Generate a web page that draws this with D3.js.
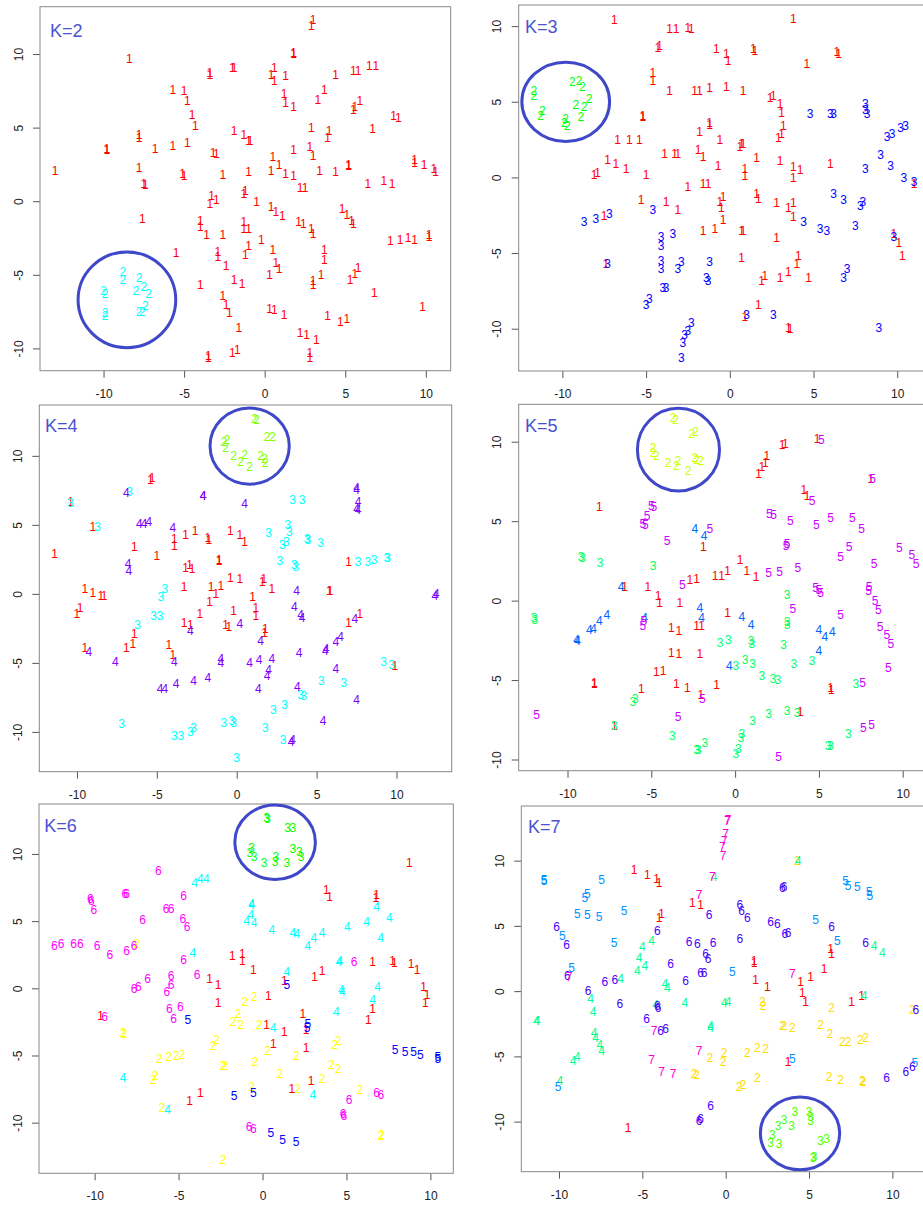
<!DOCTYPE html>
<html>
<head>
<meta charset="utf-8">
<script src="https://cdn.jsdelivr.net/npm/d3@7"></script>
<style>
  body { margin: 0; background: #fff; overflow: hidden; }
  svg { display: block; font-family: "Liberation Sans", Arial, Helvetica, sans-serif; }
</style>
</head>
<body>
<div id="chart"></div>
<script>
const kValues = [2, 3, 4, 5, 6, 7];
const tickValues = [-10, -5, 0, 5, 10];

// each panel: one list of [x, y] per cluster (cluster 1 first)
const k2Points = [
  [[3.0,12.3],[2.9,11.9],[-8.4,9.7],[1.8,10.0],[1.8,10.1],[-3.4,8.6],[-3.4,8.7],[-2.0,9.1],[-1.9,9.1],[0.6,9.1],[0.4,8.6],[0.6,8.2],[1.3,8.5],[4.4,8.6],[5.5,8.9],[5.8,8.9],[6.5,9.2],[6.9,9.2],[-5.7,7.6],[-5.0,7.5],[-4.8,6.8],[1.2,7.3],[1.3,6.7],[1.8,6.4],[3.7,7.6],[3.3,6.9],[5.5,6.2],[5.6,6.4],[5.9,6.8],[-4.5,5.9],[-4.3,5.1],[8.0,5.8],[8.3,5.7],[-7.8,4.5],[-7.8,4.3],[-1.9,4.8],[-1.3,4.5],[-1.0,4.1],[-0.9,4.1],[2.9,5.0],[4.0,4.8],[3.9,4.3],[6.7,4.9],[-9.8,3.5],[-9.8,3.6],[-6.8,3.6],[-5.7,3.8],[-4.8,4.0],[-3.2,3.3],[-3.0,3.2],[1.8,3.5],[2.8,3.7],[3.0,3.1],[0.5,3.0],[0.9,2.5],[-13.0,2.1],[-7.8,2.3],[-5.1,1.9],[-5.0,1.7],[-2.6,1.8],[-1.0,2.0],[0.4,2.1],[1.3,1.9],[1.8,1.7],[3.4,2.1],[4.4,2.0],[5.2,2.5],[5.2,2.4],[2.2,0.9],[2.5,0.9],[9.3,2.8],[9.3,2.6],[9.9,2.5],[10.5,2.2],[10.6,2.0],[6.4,1.2],[7.4,1.4],[7.9,1.2],[-7.5,1.2],[-7.4,1.1],[-3.3,0.4],[-3.4,-0.2],[-3.0,0.1],[-1.3,0.5],[-1.2,0.7],[-0.5,0.0],[0.4,-0.4],[0.7,-0.7],[1.1,-1.0],[4.8,-0.5],[5.1,-0.9],[5.4,-1.3],[5.5,-1.5],[-7.6,-1.2],[-4.0,-1.3],[-4.0,-1.7],[-3.6,-2.3],[-2.6,-2.3],[-1.3,-1.4],[-1.3,-1.9],[-1.0,-1.9],[2.1,-1.4],[2.4,-1.5],[2.9,-1.9],[3.0,-2.2],[7.8,-2.7],[8.4,-2.6],[8.9,-2.5],[9.3,-2.6],[10.2,-2.3],[10.2,-2.4],[-0.2,-2.6],[-1.0,-3.0],[-1.2,-3.6],[0.5,-3.3],[-5.5,-3.5],[-2.9,-3.4],[-2.9,-3.8],[3.7,-3.3],[3.7,-4.0],[-2.4,-4.4],[0.7,-4.2],[0.9,-4.6],[0.3,-5.0],[3.5,-5.0],[-1.9,-5.3],[-1.4,-5.6],[3.0,-5.4],[3.0,-5.7],[5.3,-5.3],[5.6,-4.9],[5.8,-4.5],[-4.0,-5.7],[6.8,-6.2],[-2.6,-6.4],[-2.4,-7.0],[-2.2,-7.6],[0.3,-7.3],[0.6,-7.4],[1.2,-7.7],[9.8,-7.2],[3.9,-7.8],[4.7,-8.2],[5.1,-8.0],[-1.6,-8.6],[2.2,-8.9],[2.6,-9.1],[3.2,-9.4],[-3.5,-10.5],[-3.5,-10.6],[-2.0,-10.3],[-1.7,-10.1],[2.8,-10.3],[2.8,-10.6]],
  [[-8.8,-4.8],[-8.8,-5.3],[-7.8,-5.2],[-7.5,-5.8],[-8.0,-6.1],[-7.2,-6.3],[-10.0,-6.1],[-9.9,-6.3],[-9.9,-7.6],[-9.9,-7.8],[-7.4,-7.1],[-7.6,-7.5],[-7.8,-7.5]]
];

const k3Points = [
  [[-6.9,10.4],[3.8,10.5],[-3.6,9.8],[-3.2,9.8],[-2.5,9.9],[-2.3,9.8],[-4.3,8.6],[-4.2,8.7],[-0.8,8.5],[-0.2,8.2],[-0.1,7.7],[1.4,8.5],[1.5,8.4],[6.4,8.3],[6.5,8.2],[4.6,7.5],[-4.6,6.9],[-4.6,6.4],[-3.6,5.7],[-2.1,5.7],[-1.8,5.7],[-1.2,5.9],[-0.2,6.0],[0.8,5.7],[2.4,5.3],[2.6,5.4],[3.0,4.9],[3.1,4.3],[-5.2,4.0],[-5.2,4.1],[-1.2,3.6],[-1.2,3.5],[-1.8,3.0],[-0.6,2.5],[3.2,3.4],[3.1,2.9],[2.9,2.6],[-6.7,2.5],[-6.0,2.5],[-5.4,2.5],[0.6,2.0],[0.7,2.2],[0.8,2.2],[-3.9,1.6],[-3.3,1.6],[-3.1,1.6],[-1.9,1.8],[-1.6,1.4],[-7.3,1.2],[-6.8,0.9],[-6.2,0.6],[1.6,1.3],[3.0,1.1],[-0.7,0.8],[0.9,0.6],[0.9,0.1],[3.8,0.7],[4.2,0.5],[3.8,0.0],[6.0,0.9],[-8.1,0.2],[-7.9,0.3],[-5.0,0.2],[-2.5,-0.6],[-1.6,-0.4],[-1.3,-0.4],[-5.3,-1.5],[-3.8,-1.6],[-3.1,-2.1],[-0.4,-1.3],[-0.6,-1.6],[-0.5,-2.0],[1.6,-1.1],[1.7,-1.4],[2.8,-1.7],[3.5,-2.0],[3.8,-1.7],[3.8,-2.6],[-7.5,-2.5],[-1.6,-3.5],[-0.9,-3.4],[-0.4,-2.8],[0.7,-3.5],[0.8,-3.5],[2.8,-4.0],[0.7,-5.3],[4.1,-5.2],[4.0,-5.7],[-7.4,-5.7],[1.9,-6.8],[2.1,-6.5],[3.0,-6.6],[3.5,-6.2],[4.7,-6.6],[9.8,-3.7],[10.1,-4.3],[10.3,-5.2],[11.0,-0.4],[1.7,-8.4],[0.9,-9.2],[3.5,-9.9],[3.6,-10.0]],
  [[-11.7,5.7],[-11.7,5.4],[-11.3,4.1],[-11.2,4.4],[-9.4,6.3],[-9.0,6.4],[-8.8,6.0],[-9.2,4.8],[-8.7,4.7],[-8.4,5.2],[-8.9,4.0],[-9.9,3.6],[-9.8,3.9],[-9.7,3.4]],
  [[4.8,4.2],[6.0,4.2],[6.2,4.2],[8.1,4.9],[8.1,4.5],[8.2,4.2],[9.4,2.7],[9.7,2.9],[10.2,3.3],[10.5,3.4],[9.0,1.5],[9.6,0.8],[8.1,0.6],[10.4,0.0],[11.0,-0.3],[6.2,-1.1],[6.8,-1.5],[7.8,-1.9],[7.95,-1.6],[7.5,-3.2],[4.4,-2.9],[5.4,-3.4],[5.8,-3.5],[9.8,-3.9],[7.0,-6.0],[6.8,-6.6],[-8.7,-2.9],[-8.0,-2.7],[-7.2,-2.4],[-4.6,-2.1],[-4.1,-3.9],[-4.1,-4.5],[-3.4,-3.7],[-4.1,-5.5],[-4.1,-6.0],[-3.1,-6.0],[-2.9,-5.6],[-1.2,-5.6],[-1.4,-6.6],[-1.3,-6.8],[-4.0,-7.3],[-3.8,-7.3],[-5.0,-8.4],[-4.8,-8.0],[-2.3,-9.6],[-2.5,-10.1],[-2.7,-10.4],[-2.8,-10.9],[-2.9,-11.9],[1.0,-9.1],[2.6,-9.1],[-7.3,-5.7],[8.9,-9.9]]
];

const k4Points = [
  [[-5.4,8.3],[-5.3,8.4],[-10.4,6.7],[-9.0,4.9],[-11.4,2.9],[-6.4,3.4],[-5.0,2.8],[-3.9,4.0],[-3.9,3.5],[-3.2,4.3],[-2.6,4.6],[-1.8,4.1],[-1.75,3.9],[-0.4,4.6],[0.2,4.3],[0.5,3.8],[-1.1,2.5],[-1.1,2.4],[-3.2,1.9],[-2.95,2.1],[-2.8,1.8],[-9.5,0.4],[-9.0,0.1],[-8.5,-0.1],[-8.3,-0.1],[-9.8,-1.0],[-10.0,-1.4],[-3.3,0.5],[-1.6,0.5],[-1.3,0.0],[-1.0,0.6],[-1.7,-0.6],[-0.4,1.2],[0.2,1.1],[1.6,0.9],[1.7,1.1],[2.2,0.4],[1.0,-0.2],[5.8,0.2],[5.85,0.2],[-2.3,-1.4],[-0.2,-1.2],[1.2,-1.0],[1.2,-1.6],[-3.3,-2.1],[-2.9,-2.2],[-0.7,-2.2],[-0.5,-2.4],[1.8,-2.5],[1.75,-2.8],[-6.4,-2.9],[-6.5,-3.6],[-6.9,-3.9],[-9.5,-3.9],[-4.25,-3.7],[-4.0,-4.4],[7.0,-2.1],[7.7,-1.4],[9.9,-5.2],[7.0,2.3]],
  [[1.1,12.7],[1.25,12.6],[1.9,11.4],[2.25,11.4],[-0.8,11.0],[-0.6,11.2],[-0.7,10.6],[-0.2,10.0],[0.25,9.6],[0.5,10.1],[0.8,9.2],[1.5,10.0],[1.75,9.8],[1.8,9.5]],
  [[-10.4,6.6],[-8.7,4.9],[-6.7,7.4],[3.5,6.8],[4.1,6.8],[3.2,5.0],[3.3,4.5],[2.0,4.4],[2.85,3.55],[3.1,3.8],[4.4,4.0],[4.45,3.9],[5.25,3.7],[2.7,2.4],[3.6,2.1],[3.7,2.0],[7.6,2.35],[8.2,2.35],[8.6,2.5],[9.4,2.6],[9.45,2.6],[-4.5,0.4],[-4.75,-0.2],[-5.2,-1.6],[-4.8,-1.6],[-6.2,-2.25],[-7.2,-9.4],[-3.9,-10.3],[-3.5,-10.3],[-2.9,-10.0],[-2.7,-9.7],[-0.8,-9.3],[-0.3,-9.2],[-0.2,-9.3],[0.0,-11.9],[1.8,-9.7],[2.3,-8.4],[3.0,-8.05],[2.9,-10.6],[4.0,-7.3],[4.2,-7.4],[5.3,-6.3],[6.7,-6.4],[9.2,-4.9],[9.7,-5.1]],
  [[-6.9,7.3],[-2.1,7.1],[-2.1,7.15],[0.5,6.5],[7.5,7.7],[7.5,7.55],[7.6,6.7],[7.5,6.2],[7.6,6.1],[-6.1,5.1],[-5.8,5.1],[-5.5,5.2],[-4.0,4.8],[-6.8,2.2],[-6.75,1.7],[3.75,0.2],[12.4,-0.1],[12.5,0.0],[3.6,-0.9],[4.0,-1.5],[4.1,-1.7],[0.2,-2.15],[-2.9,-2.7],[1.5,-3.4],[7.4,-1.8],[6.2,-3.5],[6.5,-3.1],[5.55,-4.1],[5.6,-3.95],[3.9,-4.25],[-9.25,-4.2],[-7.6,-4.9],[-3.9,-4.9],[-1.0,-4.7],[-1.0,-5.0],[0.8,-4.95],[1.4,-4.8],[2.2,-4.7],[2.0,-5.5],[1.9,-5.95],[6.2,-5.4],[-4.8,-6.85],[-4.5,-6.85],[-3.8,-6.5],[-2.7,-6.3],[-1.8,-6.1],[1.35,-6.9],[3.8,-6.7],[7.5,-7.7],[5.4,-9.2],[3.4,-10.7],[3.5,-10.6]]
];

const k5Points = [
  [[-8.1,5.9],[1.4,8.0],[1.6,8.4],[1.8,8.7],[1.9,9.1],[2.8,9.8],[3.0,9.9],[4.9,10.2],[8.1,7.7],[4.1,7.0],[4.3,6.6],[-1.9,3.4],[-6.6,0.9],[-5.2,0.9],[-4.6,0.3],[-4.5,-0.1],[-3.3,-0.1],[-2.7,1.3],[-2.3,1.4],[-1.2,1.55],[-0.8,1.55],[-0.45,1.9],[0.3,2.6],[0.7,1.9],[1.25,1.5],[-0.45,-0.75],[-3.8,-1.7],[-3.35,-1.9],[-2.3,-1.6],[-2.0,-1.55],[-3.8,-3.3],[-3.35,-3.35],[-2.1,-3.35],[-4.7,-4.5],[-4.3,-4.4],[-8.4,-5.2],[-8.4,-5.15],[-5.6,-5.55],[-3.5,-5.2],[-2.85,-5.45],[-2.05,-5.9],[-1.1,-5.3],[5.7,-5.5],[5.75,-5.6],[3.9,-7.0],[-7.2,-7.85]],
  [[-3.7,11.5],[-3.55,11.4],[-2.6,10.5],[-2.35,10.6],[-4.9,9.6],[-4.9,9.3],[-4.7,9.1],[-4.0,8.7],[-3.5,8.5],[-3.4,8.8],[-2.8,8.2],[-2.4,9.0],[-2.3,8.9],[-2.05,8.8]],
  [[-9.2,2.75],[-9.1,2.7],[-8.05,2.4],[-4.9,2.2],[-12.0,-1.1],[-11.95,-1.2],[3.1,0.4],[3.1,-1.35],[3.1,-1.5],[-0.9,-2.65],[-0.4,-2.45],[0.95,-2.55],[1.0,-2.7],[2.9,-2.8],[0.05,-4.1],[0.6,-3.7],[1.05,-4.0],[1.6,-4.75],[2.25,-4.9],[2.55,-4.95],[3.5,-4.0],[4.6,-3.8],[7.2,-5.2],[-6.1,-6.35],[-5.95,-6.2],[-7.2,-7.85],[-3.75,-8.5],[-2.3,-9.4],[-2.2,-9.35],[-1.8,-8.95],[0.05,-9.65],[0.2,-9.3],[0.35,-8.65],[0.4,-8.4],[1.05,-7.55],[2.0,-7.1],[3.1,-6.9],[3.7,-7.05],[5.55,-9.15],[5.7,-9.1],[6.75,-8.4]],
  [[-2.4,4.55],[-1.85,4.1],[-6.8,0.9],[-7.65,-0.9],[-8.1,-1.25],[-8.45,-1.75],[-8.7,-1.8],[-9.45,-2.45],[-9.4,-2.5],[-5.4,-1.1],[-2.1,-0.45],[-2.0,-1.1],[0.4,-1.0],[0.95,-1.5],[-0.35,-4.1],[5.0,-1.85],[5.35,-2.3],[5.8,-1.95],[5.0,-3.15]],
  [[5.15,10.15],[8.2,7.7],[4.6,6.3],[-5.0,5.95],[-4.85,5.9],[-5.25,5.35],[-5.5,4.85],[-5.35,4.8],[-1.5,4.55],[-4.05,3.75],[2.05,5.45],[2.3,5.4],[3.3,5.05],[4.85,4.8],[5.7,5.2],[7.0,5.25],[7.55,4.55],[3.1,3.6],[3.05,3.45],[6.3,2.75],[6.8,3.4],[3.75,2.1],[8.3,2.35],[9.8,3.35],[10.55,2.9],[10.8,2.35],[2.0,1.75],[2.65,1.8],[-3.15,1.0],[4.8,0.8],[5.0,0.7],[5.1,0.5],[8.0,0.85],[7.97,0.6],[8.35,0.0],[8.55,-0.55],[3.45,-0.5],[6.3,-0.9],[-5.5,-1.55],[-5.45,-1.25],[8.65,-1.65],[9.05,-2.15],[9.3,-2.7],[9.15,-4.2],[7.6,-5.15],[-1.95,-6.15],[-3.4,-7.3],[-11.85,-7.2],[7.65,-8.0],[8.15,-7.8],[2.6,-9.85]]
];

const k6Points = [
  [[8.75,9.35],[3.8,7.35],[4.0,6.8],[6.8,6.95],[6.75,6.75],[-1.8,2.4],[-1.2,2.55],[-1.2,2.05],[-0.55,1.35],[-3.15,0.7],[-2.65,0.3],[-2.65,-1.1],[0.35,-0.55],[3.1,0.9],[3.55,1.3],[6.55,1.95],[7.75,2.05],[7.85,1.9],[8.85,1.8],[9.2,1.4],[9.6,0.1],[9.8,-0.5],[9.7,-1.05],[1.3,0.6],[-9.65,-2.05],[0.25,-2.7],[1.3,-3.2],[2.4,-1.9],[2.6,-3.1],[6.55,-1.55],[6.3,-2.35],[0.65,-4.1],[2.6,-4.45],[2.9,-6.9],[1.75,-7.45],[-3.7,-7.8],[-4.35,-8.4]],
  [[-7.5,3.35],[-1.05,-1.0],[-0.5,-0.65],[-1.45,-1.9],[-1.75,-2.5],[-1.3,-2.7],[-0.2,-2.7],[-8.3,-3.3],[-8.25,-3.4],[-2.75,-3.8],[-2.95,-4.3],[-6.15,-5.25],[-5.6,-5.1],[-5.15,-5.05],[-4.8,-4.95],[-2.35,-5.75],[-2.25,-5.75],[-0.45,-5.45],[0.3,-4.65],[2.0,-5.0],[1.05,-6.35],[-6.5,-6.8],[-6.4,-6.5],[-0.65,-7.3],[2.1,-7.45],[3.55,-6.7],[4.3,-4.2],[4.5,-3.9],[4.1,-5.7],[4.5,-6.0],[5.8,-7.55],[7.05,-10.95],[7.1,-10.9],[-2.35,-12.75],[-6.0,-8.9]],
  [[0.25,12.7],[0.3,12.6],[1.5,11.95],[1.8,11.95],[-0.65,10.45],[-0.75,10.1],[-0.5,9.8],[0.1,9.35],[0.75,9.4],[0.8,9.8],[1.45,9.35],[1.8,10.4],[2.2,10.15],[2.3,9.8]],
  [[-4.05,7.85],[-3.7,8.15],[-3.35,8.15],[-0.65,6.3],[-0.65,6.2],[-0.7,5.5],[-0.95,5.0],[-0.5,4.9],[0.55,4.35],[1.8,4.15],[2.05,4.05],[3.05,3.8],[2.7,3.2],[3.55,4.15],[5.05,4.6],[6.2,4.95],[6.8,6.05],[7.55,5.25],[7.05,3.8],[4.6,2.05],[4.55,1.95],[-4.15,2.65],[1.45,1.25],[4.7,-0.1],[4.75,-0.25],[6.85,0.1],[6.55,-0.85],[4.4,-1.75],[0.65,-2.9],[-8.3,-6.65],[-5.65,-9.05],[3.0,-7.9]],
  [[1.45,0.3],[-4.45,-2.35],[2.7,-2.6],[2.65,-2.9],[7.9,-4.6],[8.5,-4.7],[9.0,-4.7],[9.4,-4.95],[10.45,-5.1],[10.45,-5.25],[-1.7,-8.0],[-0.55,-7.8],[0.5,-10.75],[1.2,-11.25],[2.0,-11.4]],
  [[-6.2,8.75],[-8.2,7.05],[-8.1,7.05],[-10.25,6.7],[-10.2,6.5],[-10.05,5.85],[-4.7,6.9],[-5.75,5.9],[-5.45,5.95],[-7.15,5.1],[-4.75,5.2],[-4.5,4.6],[-12.4,3.2],[-12.0,3.3],[-11.25,3.35],[-10.85,3.3],[-9.85,3.15],[-9.1,2.5],[-8.1,2.8],[-7.65,3.2],[-4.7,2.15],[-3.9,1.05],[-6.85,0.75],[-5.45,0.95],[-5.45,0.25],[-5.7,-0.25],[-7.65,-0.05],[-7.4,0.1],[-5.55,-1.55],[-4.9,-1.4],[-5.3,-2.25],[-9.4,-2.1],[5.45,1.95],[5.15,-8.3],[4.8,-9.35],[4.85,-9.5],[6.8,-7.8],[7.05,-7.9],[-0.8,-10.3],[-0.55,-10.45]]
];

const k7Points = [
  [[-5.5,9.3],[-4.7,8.95],[-4.15,8.6],[-4.0,8.3],[-2.0,6.75],[-1.5,6.65],[-3.85,5.9],[-4.0,5.6],[1.7,2.3],[1.7,2.2],[1.8,0.9],[2.5,0.35],[4.5,0.75],[5.1,1.1],[5.9,1.7],[4.6,-0.1],[4.8,-0.8],[6.3,3.25],[6.35,2.9],[7.55,-0.8],[8.15,-0.35],[3.75,-5.4],[-5.85,-10.45]],
  [[4.3,10.0],[2.2,-0.8],[2.25,-1.1],[6.35,-1.25],[3.4,-2.65],[3.5,-2.65],[4.0,-2.8],[5.7,-2.6],[6.25,-3.25],[7.0,-3.85],[7.35,-3.85],[8.1,-3.75],[8.4,-3.6],[-0.95,-5.1],[-0.1,-4.7],[-0.15,-5.4],[1.3,-4.75],[1.9,-4.3],[2.4,-4.4],[-1.9,-6.35],[-1.75,-6.4],[0.8,-7.35],[1.05,-7.2],[1.9,-6.6],[6.2,-6.55],[6.9,-6.75],[8.2,-6.85],[8.25,-6.95],[11.2,-1.45]],
  [[4.15,-9.25],[3.5,-9.85],[3.95,-10.3],[3.15,-10.3],[5.0,-9.25],[5.1,-9.6],[5.1,-9.95],[2.8,-11.0],[2.7,-11.65],[3.2,-11.7],[5.7,-11.45],[6.05,-11.3],[5.25,-12.8],[5.3,-12.65]],
  [[-0.7,8.75],[4.35,10.0],[-5.0,3.4],[-4.45,3.85],[-5.2,2.55],[-4.85,1.95],[-5.3,1.55],[-6.3,0.95],[-3.65,0.6],[-3.5,0.25],[-2.45,-0.85],[-0.1,-0.9],[0.15,-0.8],[-4.2,-1.05],[-8.1,-0.6],[-7.95,-1.55],[-11.35,-2.3],[-11.3,-2.25],[-0.9,-2.65],[-0.9,-2.8],[-7.9,-3.2],[-7.8,-3.6],[-7.55,-4.1],[-7.45,-4.6],[-9.15,-5.3],[-8.9,-5.0],[-9.95,-6.9],[8.3,-0.35],[8.9,3.5],[9.4,2.95]],
  [[-10.9,8.55],[-10.9,8.45],[-7.45,8.55],[-8.3,7.5],[-8.45,7.15],[-8.9,5.9],[-8.3,5.85],[-7.6,5.7],[-6.1,6.15],[-9.8,4.25],[-6.7,3.75],[-9.25,1.8],[0.4,1.5],[5.4,5.45],[6.7,3.9],[7.2,8.5],[7.35,8.1],[7.9,8.0],[8.6,7.65],[8.65,7.35],[4.0,-5.15],[-10.05,-7.3],[11.35,-5.5]],
  [[3.4,7.9],[3.5,8.0],[0.85,6.65],[0.95,6.15],[1.3,5.65],[-1.0,5.85],[2.7,5.3],[3.1,5.15],[3.55,4.4],[3.75,4.45],[6.35,4.95],[8.4,3.75],[-10.15,4.95],[-9.55,3.55],[-9.5,1.2],[-4.1,4.65],[-2.2,3.8],[-1.7,3.6],[-0.75,3.75],[-1.2,2.9],[-1.05,2.45],[0.85,4.0],[-3.3,2.1],[-2.4,0.8],[-1.5,1.4],[-1.3,1.4],[-7.25,0.75],[-6.65,0.85],[-8.25,0.0],[-6.35,-0.95],[-4.1,-1.15],[-4.05,-1.25],[-4.75,-2.1],[-3.9,-3.05],[-3.6,-2.9],[-0.9,-8.8],[-1.6,-9.9],[-1.5,-9.75],[9.65,-6.65],[10.8,-6.2],[11.2,-5.8],[11.4,-1.45]],
  [[0.1,13.1],[0.15,13.15],[0.0,12.1],[-0.1,11.55],[-0.2,11.05],[-0.15,10.4],[-0.8,8.8],[-1.6,7.4],[-9.4,1.1],[4.0,1.35],[-4.3,-3.05],[-1.6,-4.55],[-4.45,-5.25],[-3.85,-6.15],[-3.15,-6.3]]
];

const panelPoints = [k2Points, k3Points, k4Points, k5Points, k6Points, k7Points];

// circled cluster in each panel: centre x, centre y, radius x, radius y (data units)
const circledGroups = [
  [-8.55, -6.7, 3.03, 3.25],
  [-9.8, 5.0, 2.62, 2.62],
  [0.81, 10.71, 2.48, 2.76],
  [-3.38, 9.5, 2.45, 2.6],
  [0.75, 10.87, 2.4, 2.77],
  [4.46, -10.9, 2.38, 2.79]
];

// plot boxes on the page
const layout = [
  {left: 40, top: 6.7, width: 410.7, height: 364, labelX: 10, labelY: 30.6},
  {left: 518.7, top: 5, width: 410.5, height: 366, labelX: 6.3, labelY: 28.3},
  {left: 39.3, top: 405, width: 412.4, height: 366.7, labelX: 5.7, labelY: 27.3},
  {left: 518.7, top: 404.3, width: 412.7, height: 366.4, labelX: 6.3, labelY: 28},
  {left: 39, top: 804, width: 414.3, height: 369.3, labelX: 5.3, labelY: 27.7},
  {left: 521.3, top: 806, width: 409.6, height: 365.7, labelX: 6.7, labelY: 27.3}
];

// same colours as R's rainbow(n)
const rainbow = function(n) {
  return d3.range(n).map(function(i) { return d3.hsl(i / n * 360, 1, 0.5).formatHex(); });
};

// R-style axis range: data extent widened by 4% each side
const padExtent = function(vals) {
  const ext = d3.extent(vals);
  const pad = (ext[1] - ext[0]) * 0.04;
  return [ext[0] - pad, ext[1] + pad];
};

const svg = d3.select("#chart").append("svg")
  .attr("width", 923)
  .attr("height", 1209);

panelPoints.forEach(function(groups, pi) {
  const p = layout[pi];
  const k = kValues[pi];
  const colors = rainbow(k);
  const pts = groups.flatMap(function(g, ci) {
    return g.map(function(d) { return {x: d[0], y: d[1], c: ci + 1}; });
  });

  const x = d3.scaleLinear()
    .domain(padExtent(pts.map(function(d) { return d.x; })))
    .range([0, p.width]);
  const y = d3.scaleLinear()
    .domain(padExtent(pts.map(function(d) { return d.y; })))
    .range([p.height, 0]);

  const g = svg.append("g")
    .attr("transform", "translate(" + p.left + "," + p.top + ")");

  const clipId = "clip" + pi;
  g.append("clipPath").attr("id", clipId)
    .append("rect").attr("width", p.width).attr("height", p.height);

  // x axis
  const xAxis = g.append("g")
    .attr("transform", "translate(0," + p.height + ")")
    .call(d3.axisBottom(x)
      .tickValues(tickValues)
      .tickSize(7)
      .tickSizeOuter(0)
      .tickPadding(11.5)
      .tickFormat(function(d) { return String(d); }))
    .attr("font-size", 12)
    .attr("font-family", null);
  xAxis.select(".domain").remove();
  xAxis.selectAll("line").attr("stroke", "#555");
  xAxis.selectAll("text").attr("fill", "#222");

  // y axis, labels turned like R's default
  const yAxis = g.append("g")
    .call(d3.axisLeft(y)
      .tickValues(tickValues)
      .tickSize(7)
      .tickSizeOuter(0)
      .tickFormat(""))
    .attr("font-size", 12)
    .attr("font-family", null);
  yAxis.select(".domain").remove();
  yAxis.selectAll("line").attr("stroke", "#555");
  yAxis.selectAll(".tick text").remove();
  yAxis.selectAll(".tick").append("text")
    .attr("transform", "translate(-17.3,0) rotate(-90)")
    .attr("text-anchor", "middle")
    .attr("fill", "#222")
    .text(function(d) { return String(d); });

  // frame
  g.append("rect")
    .attr("width", p.width)
    .attr("height", p.height)
    .attr("fill", "none")
    .attr("stroke", "#888")
    .attr("stroke-width", 1);

  // points drawn as their cluster number
  g.append("g")
    .attr("clip-path", "url(#" + clipId + ")")
    .selectAll("text")
    .data(pts)
    .join("text")
    .attr("x", function(d) { return x(d.x); })
    .attr("y", function(d) { return y(d.y); })
    .attr("dy", "0.36em")
    .attr("text-anchor", "middle")
    .attr("font-size", 12)
    .attr("fill", function(d) { return colors[d.c - 1]; })
    .text(function(d) { return d.c; });

  // circled cluster
  const c = circledGroups[pi];
  g.append("ellipse")
    .attr("cx", x(c[0]))
    .attr("cy", y(c[1]))
    .attr("rx", x(c[0] + c[2]) - x(c[0]))
    .attr("ry", y(c[1] - c[3]) - y(c[1]))
    .attr("fill", "none")
    .attr("stroke", "#3f48c8")
    .attr("stroke-width", 3);

  // panel label
  g.append("text")
    .attr("x", p.labelX)
    .attr("y", p.labelY)
    .attr("font-size", 18)
    .attr("fill", "#4a52d0")
    .text("K=" + k);
});
</script>
</body>
</html>
